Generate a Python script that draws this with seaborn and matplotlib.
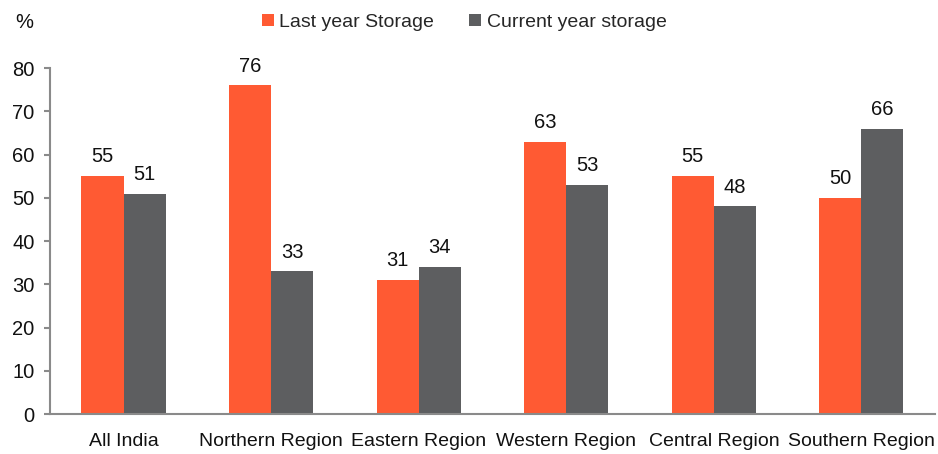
import matplotlib
matplotlib.use("Agg")
import matplotlib.pyplot as plt
import seaborn as sns
import pandas as pd
from matplotlib.ticker import FixedLocator, NullFormatter

regions = ["All India", "Northern Region", "Eastern Region", "Western Region",
           "Central Region", "Southern Region"]
last_year = [55, 76, 31, 63, 55, 50]
current_year = [51, 33, 34, 53, 48, 66]
series_names = ["Last year Storage", "Current year storage"]
colors = ["#FF5A33", "#5D5E60"]

df = pd.DataFrame({
    "region": regions * 2,
    "series": [series_names[0]] * len(regions) + [series_names[1]] * len(regions),
    "value": last_year + current_year,
})

sns.set_style("white")
plt.rcParams["font.family"] = ["Liberation Sans", "DejaVu Sans"]

fig = plt.figure(figsize=(9.38, 4.54), dpi=100)
ax = fig.add_axes([0.053, 0.088, 0.944, 0.762])

sns.barplot(data=df, x="region", y="value", hue="series", palette=colors,
            width=0.57, saturation=1, linewidth=0, ax=ax, legend=True)

for cont in ax.containers:
    ax.bar_label(cont, fmt="%d", padding=7, fontsize=14.5, color="#111111")

ax.set_ylim(0, 80)
ax.set_xlim(-0.5, len(regions) - 0.5)
ax.set_yticks(range(0, 81, 10))
ax.set_xlabel("")
ax.set_ylabel("")

ax.xaxis.set_minor_locator(FixedLocator([i - 0.5 for i in range(len(regions) + 1)]))
ax.xaxis.set_minor_formatter(NullFormatter())
ax.tick_params(axis="x", which="major", length=0, labelsize=14, pad=14, colors="#111111")
ax.tick_params(axis="x", which="minor", length=4, width=1.5, color="#8a8a8a", direction="out")
ax.tick_params(axis="y", length=4, width=1.5, color="#8a8a8a", labelsize=14.5,
               labelcolor="#111111", pad=7, left=True)

for side in ["top", "right"]:
    ax.spines[side].set_visible(False)
for side in ["left", "bottom"]:
    ax.spines[side].set_color("#8a8a8a")
    ax.spines[side].set_linewidth(1.5)

handles, labels = ax.get_legend_handles_labels()
ax.get_legend().remove()
fig.legend(handles, labels, loc="center", bbox_to_anchor=(0.495, 0.951), ncol=2,
           frameon=False, fontsize=14, handlelength=0.6, handleheight=0.6,
           handletextpad=0.3, columnspacing=1.8)

fig.text(0.016, 0.95, "%", fontsize=14.5, color="#111111", va="center")

fig.savefig("out.png", dpi=100)
